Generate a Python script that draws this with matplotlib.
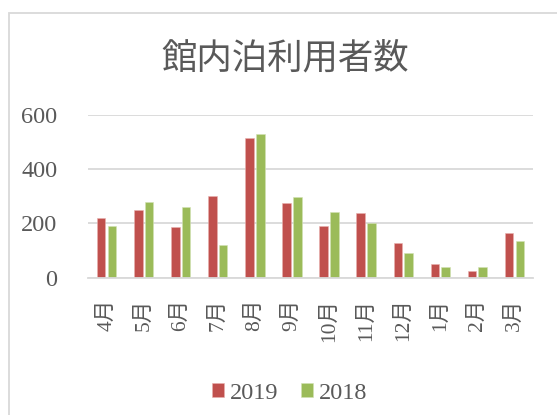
import matplotlib
matplotlib.use("Agg")
import matplotlib.pyplot as plt
from matplotlib.patches import Rectangle
import numpy as np

months = ["4月", "5月", "6月", "7月", "8月", "9月", "10月", "11月", "12月", "1月", "2月", "3月"]
guests_2019 = [218, 248, 188, 301, 513, 276, 190, 239, 128, 50, 23, 164]
guests_2018 = [190, 277, 260, 119, 530, 296, 242, 201, 91, 41, 41, 135]

FONT = ["Liberation Serif", "Noto Sans CJK JP"]
TEXT_COLOR = "#595959"
GRID_COLOR = "#d9d9d9"

plt.rcParams["font.family"] = FONT

fig = plt.figure(figsize=(5.57, 4.15), dpi=100)

# chart frame (cut off at right and bottom like the screenshot)
fig.add_artist(Rectangle((8.5 / 557, -0.1), 1.2, 1 - 13.5 / 415 + 0.1,
                         transform=fig.transFigure, fill=False,
                         edgecolor=GRID_COLOR, linewidth=1.3))

ax = fig.add_axes([88 / 557, 1 - 277.7 / 415, 445 / 557, 163 / 415])

x = np.arange(len(months))
width = 0.23
ax.bar(x - 0.145, guests_2019, width, color="#C0504D", label="2019",
       edgecolor="#e8b0ae", linewidth=0.4, zorder=3)
ax.bar(x + 0.145, guests_2018, width, color="#9BBB59", label="2018",
       edgecolor="#d3e2b4", linewidth=0.4, zorder=3)

ax.set_xlim(-0.5, len(months) - 0.5)
ax.set_ylim(0, 600)
ax.set_yticks([0, 200, 400, 600])
ax.set_xticks(x)
ax.set_xticklabels(months, rotation=90)

ax.grid(axis="y", color=GRID_COLOR, linewidth=1.3, zorder=0)
for side in ["top", "right", "left"]:
    ax.spines[side].set_visible(False)
ax.spines["bottom"].set_color(GRID_COLOR)
ax.spines["bottom"].set_linewidth(1.3)
ax.spines["bottom"].set_zorder(4)

ax.tick_params(axis="both", length=0, labelsize=17.5, labelcolor=TEXT_COLOR)
ax.tick_params(axis="y", pad=22)
ax.tick_params(axis="x", pad=15)
for lbl in ax.get_xticklabels():
    lbl.set_fontsize(15.5)

fig.text(0.512, 0.855, "館内泊利用者数", ha="center", va="center",
         fontsize=25.5, color=TEXT_COLOR)

fig.legend(loc="center", bbox_to_anchor=(0.52, 0.052), ncol=2, frameon=False,
           fontsize=17.5, handlelength=0.52, handleheight=0.52,
           handletextpad=0.25, columnspacing=0.9, labelcolor=TEXT_COLOR)

fig.savefig("out.png", dpi=100)
